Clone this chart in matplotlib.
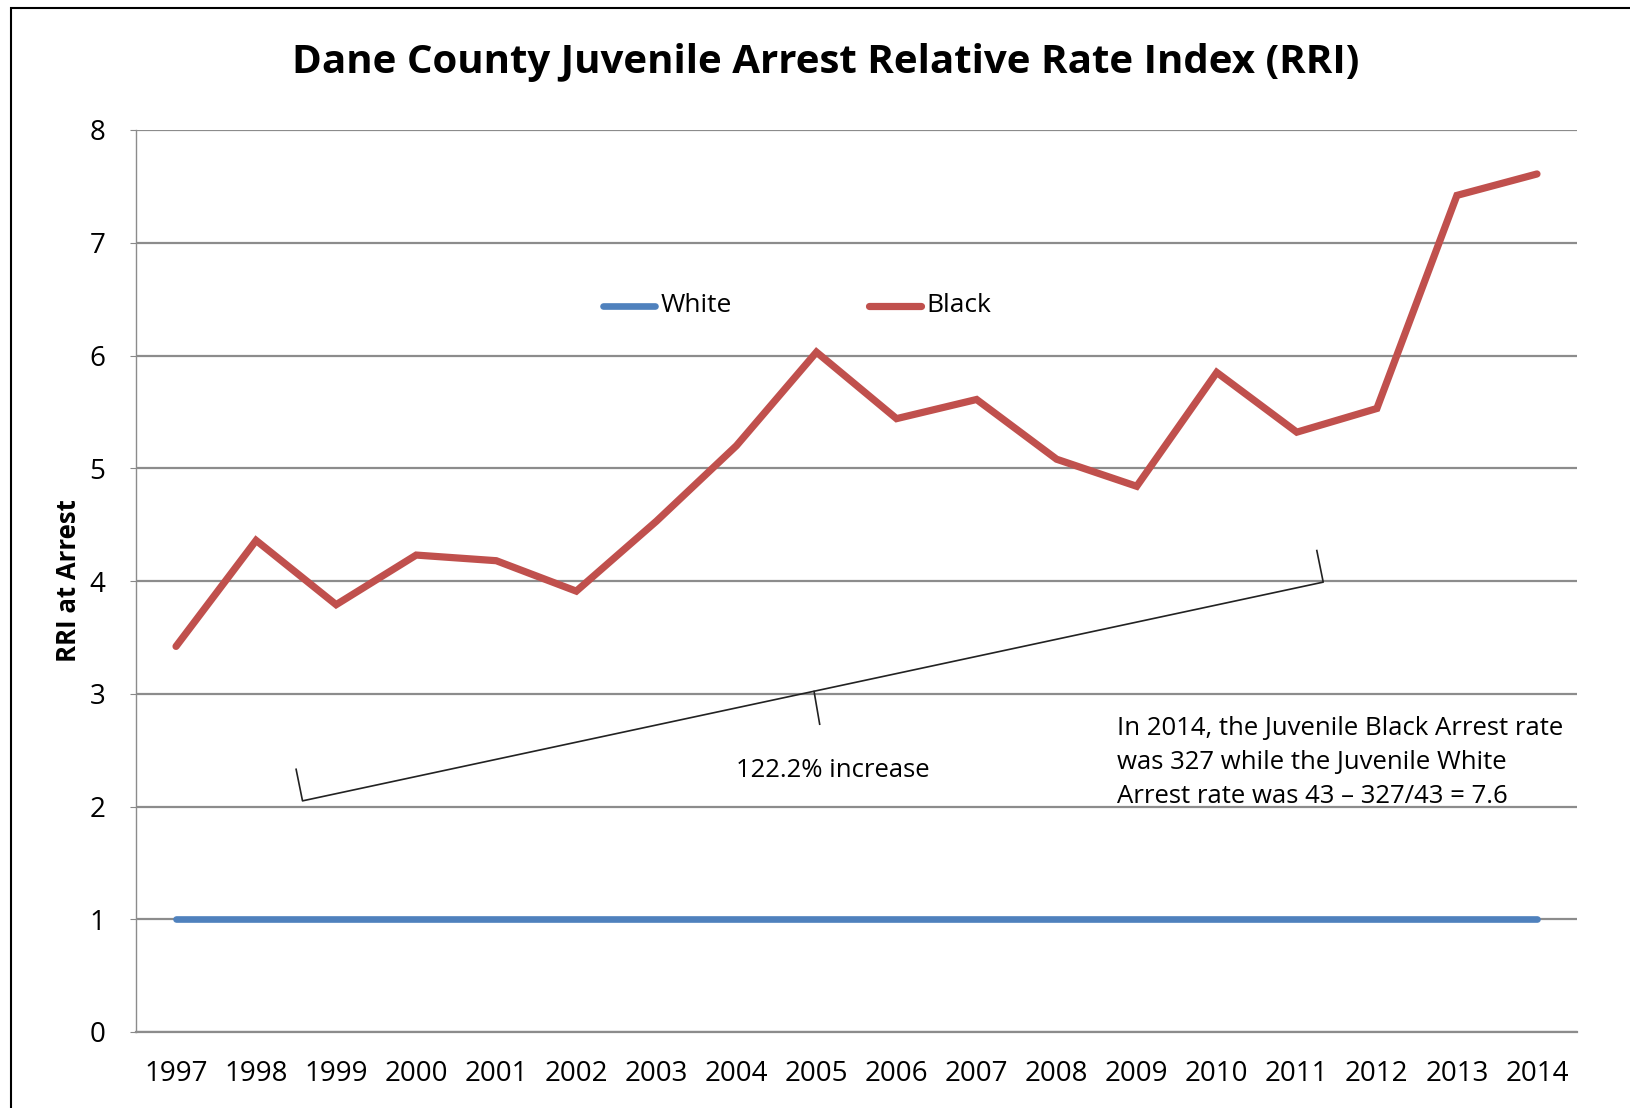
import matplotlib
matplotlib.use("Agg")
import matplotlib.pyplot as plt
from matplotlib.patches import Rectangle
import numpy as np

plt.rcParams['font.family'] = ['Open Sans', 'DejaVu Sans']

years = ["1997", "1998", "1999", "2000", "2001", "2002", "2003", "2004", "2005",
         "2006", "2007", "2008", "2009", "2010", "2011", "2012", "2013", "2014"]
white = [1, 1, 1, 1, 1, 1, 1, 1, 1, 1, 1, 1, 1, 1, 1, 1, 1, 1]
black = [3.42, 4.36, 3.79, 4.23, 4.18, 3.91, 4.53, 5.20, 6.03,
         5.44, 5.61, 5.08, 4.84, 5.85, 5.32, 5.53, 7.42, 7.61]
yticks = [0, 1, 2, 3, 4, 5, 6, 7, 8]

title = "Dane County Juvenile Arrest Relative Rate Index (RRI)"
ylabel = "RRI at Arrest"
brace_label = "122.2% increase"
note = ("In 2014, the Juvenile Black Arrest rate\n"
        "was 327 while the Juvenile White\n"
        "Arrest rate was 43 \u2013 327/43 = 7.6")

W, H = 1630, 1108
fig = plt.figure(figsize=(W / 100, H / 100), dpi=100)
ax = fig.add_axes([136 / W, 1 - 1032 / H, (1577 - 136) / W, (1032 - 130) / H])

x = np.arange(len(years))
ax.plot(x, white, color="#4F81BD", lw=4.8, solid_capstyle="round", zorder=3)
ax.plot(x, black, color="#C0504D", lw=5.2, solid_capstyle="round",
        solid_joinstyle="miter", zorder=3)

ax.set_xlim(-0.5, len(years) - 0.5)
ax.set_ylim(0, 8)
ax.set_yticks(yticks)
ax.set_yticklabels([str(v) for v in yticks], fontsize=20)
ax.set_xticks(x)
ax.set_xticklabels(years, fontsize=20)
ax.tick_params(axis="x", length=0, pad=20)
ax.tick_params(axis="y", length=4, color="#888888", pad=18)
ax.grid(axis="y", color="#8c8c8c", lw=1.6)
ax.set_axisbelow(True)
for s in ["top", "right"]:
    ax.spines[s].set_visible(False)
ax.spines["left"].set_color("#8c8c8c")
ax.spines["left"].set_linewidth(1.0)
ax.spines["bottom"].set_color("#8c8c8c")
ax.spines["bottom"].set_linewidth(1.6)

ax.set_ylabel(ylabel, fontsize=18.5, fontweight="bold", labelpad=5)
fig.text(0.5 * (136 + 1577) / W - 0.019, 1 - 62 / H, title, ha="center", va="center",
         fontsize=29, fontweight="bold")

# legend
ax.plot([5.33, 5.98], [6.44, 6.44], color="#4F81BD", lw=4.8, solid_capstyle="round", clip_on=False)
ax.text(6.05, 6.44, "White", fontsize=19, va="center", ha="left")
ax.plot([8.65, 9.3], [6.44, 6.44], color="#C0504D", lw=5.2, solid_capstyle="round", clip_on=False)
ax.text(9.37, 6.44, "Black", fontsize=19, va="center", ha="left")

# brace annotation
bx = [1.50, 1.58, 14.33, 14.25]
by = [2.33, 2.05, 3.99, 4.27]
ax.plot(bx, by, color="#222222", lw=1.2, zorder=4)
ax.plot([7.97, 8.04], [3.02, 2.73], color="#222222", lw=1.2, zorder=4)
ax.text(8.21, 2.32, brace_label, fontsize=18.5, ha="center", va="center")
ax.text(11.76, 2.80, note, fontsize=18.5, ha="left", va="top", linespacing=1.47)

# figure border
fig.patches.append(Rectangle((11 / W, -0.1), 1.2, 1 - 8 / H + 0.1, transform=fig.transFigure,
                             fill=False, edgecolor="black", lw=1.5))

fig.savefig("out.png", dpi=100)
